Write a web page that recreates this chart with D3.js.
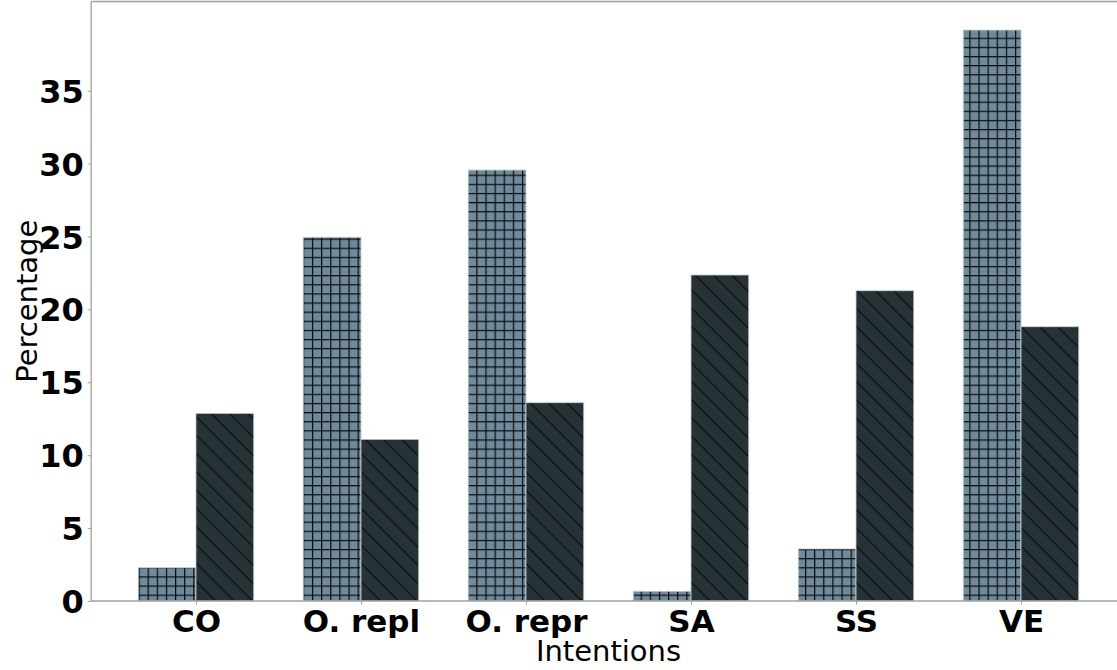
<!DOCTYPE html>
<html><head><meta charset="utf-8">
<script src="https://cdn.jsdelivr.net/npm/d3@7/dist/d3.min.js"></script>
<style>
body{margin:0;background:#fff}
svg{display:block}
text{font-family:"DejaVu Sans",sans-serif}
</style>
</head><body>
<svg id="c" width="1117" height="670"></svg>
<script>
const categories = ["CO", "O. repl", "O. repr", "SA", "SS", "VE"];
const seriesA = [2.28, 24.95, 29.56, 0.67, 3.57, 39.16];
const seriesB = [12.87, 11.09, 13.6, 22.36, 21.28, 18.81];
const yTicks = [0, 5, 10, 15, 20, 25, 30, 35];
const xLabel = "Intentions";
const yLabel = "Percentage";

const svg = d3.select("#c");
const plot = {left: 91.2, right: 1125.8, top: 1.5, bottom: 601};
const barW = 0.35;
const x = d3.scaleLinear().domain([-0.635, categories.length - 1 + 0.635]).range([plot.left, plot.right]);
const y = d3.scaleLinear().domain([0, 41.12]).range([plot.bottom, plot.top]);

const defs = svg.append("defs");
const g1 = defs.append("pattern").attr("id", "grid").attr("patternUnits", "userSpaceOnUse")
  .attr("x", 969.3 % 9.13).attr("y", 37.7 % 9.13).attr("width", 9.13).attr("height", 9.13);
g1.append("rect").attr("width", 9.13).attr("height", 9.13).attr("fill", "#6f8b9b");
g1.append("line").attr("x1", 0).attr("x2", 9.13).attr("y1", 0.6).attr("y2", 0.6).attr("stroke", "#0a0a0a").attr("stroke-width", 1.2);
g1.append("line").attr("y1", 0).attr("y2", 9.13).attr("x1", 0.6).attr("x2", 0.6).attr("stroke", "#0a0a0a").attr("stroke-width", 1.2);

const s = 18.3 / Math.SQRT2;
const g2 = defs.append("pattern").attr("id", "diag").attr("patternUnits", "userSpaceOnUse")
  .attr("width", s).attr("height", s).attr("patternTransform", "rotate(45)");
g2.append("rect").attr("width", s).attr("height", s).attr("fill", "#263236");
g2.append("line").attr("x1", 0).attr("x2", s).attr("y1", 0.6).attr("y2", 0.6).attr("stroke", "#0c0f10").attr("stroke-width", 1.2);

const clip = defs.append("clipPath").attr("id", "clipP");
clip.append("rect").attr("x", plot.left).attr("y", plot.top).attr("width", plot.right - plot.left).attr("height", plot.bottom - plot.top);

const bars = svg.append("g").attr("clip-path", "url(#clipP)");
bars.selectAll("rect.a").data(seriesA).join("rect").attr("class", "a")
  .attr("x", (d, i) => x(i - barW)).attr("width", (d, i) => x(i) - x(i - barW))
  .attr("y", d => y(d)).attr("height", d => y(0) - y(d))
  .attr("fill", "url(#grid)").attr("stroke", "#c5ced3").attr("stroke-width", 0.8);
bars.selectAll("rect.b").data(seriesB).join("rect").attr("class", "b")
  .attr("x", (d, i) => x(i)).attr("width", (d, i) => x(i + barW) - x(i))
  .attr("y", d => y(d)).attr("height", d => y(0) - y(d))
  .attr("fill", "url(#diag)").attr("stroke", "#c5ced3").attr("stroke-width", 0.8);

// spines
const spine = "#a0a0a0";
svg.append("line").attr("x1", plot.left).attr("x2", plot.left).attr("y1", plot.top).attr("y2", plot.bottom).attr("stroke", spine).attr("stroke-width", 1.3);
svg.append("line").attr("x1", plot.left).attr("x2", plot.right).attr("y1", plot.top).attr("y2", plot.top).attr("stroke", spine).attr("stroke-width", 1.3);
svg.append("line").attr("x1", plot.left).attr("x2", plot.right).attr("y1", plot.bottom).attr("y2", plot.bottom).attr("stroke", spine).attr("stroke-width", 1.3);
svg.append("line").attr("x1", plot.right).attr("x2", plot.right).attr("y1", plot.top).attr("y2", plot.bottom).attr("stroke", spine).attr("stroke-width", 1.3);

// y axis
const yAxis = d3.axisLeft(y).tickValues(yTicks).tickSize(3.5).tickPadding(4).tickFormat(d3.format("d"));
const ya = svg.append("g").attr("transform", `translate(${plot.left},0)`).call(yAxis);
ya.select(".domain").remove();
ya.selectAll(".tick line").attr("stroke", spine).attr("stroke-width", 1);
ya.selectAll(".tick text").attr("fill", "#000").attr("font-size", 32).attr("font-weight", "bold")
  .attr("font-family", "DejaVu Sans").attr("dy", "0.36em");

// x axis
const xAxis = d3.axisBottom(x).tickValues(d3.range(categories.length)).tickSize(3.5).tickPadding(5)
  .tickFormat(i => categories[i]);
const xa = svg.append("g").attr("transform", `translate(0,${plot.bottom})`).call(xAxis);
xa.select(".domain").remove();
xa.selectAll(".tick line").attr("stroke", spine).attr("stroke-width", 1);
xa.selectAll(".tick text").attr("fill", "#000").attr("font-size", 31).attr("font-weight", "bold")
  .attr("font-family", "DejaVu Sans").attr("dy", "0.71em");

// axis labels
svg.append("text").attr("x", (plot.left + plot.right) / 2).attr("y", 661)
  .attr("text-anchor", "middle").attr("font-size", 29).attr("fill", "#000").text(xLabel);
svg.append("text").attr("transform", `translate(36.5,${(plot.top + plot.bottom) / 2}) rotate(-90)`)
  .attr("text-anchor", "middle").attr("font-size", 29).attr("fill", "#000").text(yLabel);
</script>
</body></html>
